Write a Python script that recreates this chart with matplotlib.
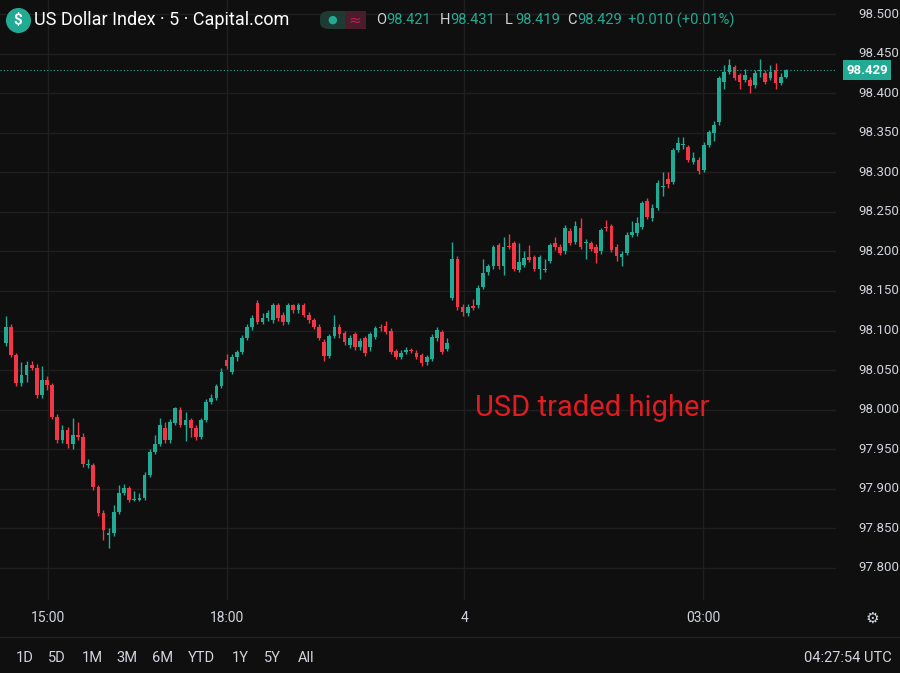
import matplotlib
matplotlib.use('Agg')
import matplotlib.pyplot as plt
from matplotlib.patches import Rectangle, FancyBboxPatch

plt.rcParams['font.family'] = ['Roboto', 'DejaVu Sans']

# 5-minute candles
opens = [98.084, 98.105, 98.069, 98.034, 98.044, 98.057, 98.053, 98.019, 98.038, 98.031,
         97.991, 97.962, 97.974, 97.956, 97.968, 97.966, 97.930, 97.930, 97.902, 97.870,
         97.842, 97.844, 97.871, 97.895, 97.901, 97.886, 97.886, 97.889, 97.918, 97.947,
         97.957, 97.977, 97.962, 97.983, 98.000, 97.981, 97.987, 97.977, 97.966, 97.987,
         98.010, 98.015, 98.030, 98.063, 98.048, 98.066, 98.073, 98.091, 98.105, 98.135,
         98.111, 98.116, 98.113, 98.132, 98.120, 98.111, 98.132, 98.126, 98.132, 98.120,
         98.113, 98.105, 98.086, 98.068, 98.093, 98.105, 98.097, 98.082, 98.095, 98.079,
         98.090, 98.079, 98.092, 98.105, 98.106, 98.100, 98.074, 98.067, 98.073, 98.076,
         98.072, 98.069, 98.060, 98.064, 98.090, 98.098, 98.077, 98.141, 98.191, 98.130,
         98.122, 98.131, 98.132, 98.155, 98.174, 98.181, 98.208, 98.181, 98.207, 98.210,
         98.177, 98.183, 98.193, 98.193, 98.178, 98.177, 98.188, 98.211, 98.206, 98.200,
         98.226, 98.212, 98.230, 98.211, 98.210, 98.206, 98.200, 98.231, 98.232, 98.206,
         98.193, 98.198, 98.221, 98.223, 98.231, 98.264, 98.242, 98.255, 98.282, 98.292,
         98.288, 98.328, 98.335, 98.332, 98.313, 98.316, 98.303, 98.335, 98.350, 98.363,
         98.414, 98.427, 98.433, 98.423, 98.417, 98.417, 98.410, 98.428, 98.426, 98.419,
         98.429, 98.413, 98.421]
closes = [98.105, 98.069, 98.034, 98.044, 98.057, 98.053, 98.019, 98.038, 98.031, 97.991,
          97.962, 97.974, 97.956, 97.968, 97.966, 97.931, 97.931, 97.902, 97.870, 97.848,
          97.844, 97.871, 97.895, 97.901, 97.886, 97.887, 97.889, 97.918, 97.947, 97.957,
          97.981, 97.962, 97.985, 98.002, 97.981, 97.987, 97.977, 97.966, 97.987, 98.010,
          98.015, 98.030, 98.048, 98.055, 98.066, 98.073, 98.091, 98.105, 98.116, 98.111,
          98.116, 98.122, 98.132, 98.116, 98.111, 98.132, 98.126, 98.132, 98.120, 98.113,
          98.105, 98.091, 98.068, 98.093, 98.105, 98.095, 98.086, 98.091, 98.079, 98.087,
          98.072, 98.095, 98.103, 98.103, 98.098, 98.073, 98.067, 98.072, 98.076, 98.074,
          98.067, 98.059, 98.066, 98.092, 98.101, 98.073, 98.084, 98.191, 98.130, 98.124,
          98.130, 98.129, 98.154, 98.173, 98.181, 98.205, 98.181, 98.205, 98.206, 98.178,
          98.186, 98.192, 98.189, 98.178, 98.193, 98.178, 98.208, 98.205, 98.198, 98.230,
          98.211, 98.232, 98.206, 98.211, 98.203, 98.198, 98.227, 98.230, 98.202, 98.194,
          98.197, 98.221, 98.225, 98.236, 98.261, 98.244, 98.255, 98.287, 98.283, 98.285,
          98.328, 98.337, 98.335, 98.316, 98.318, 98.301, 98.335, 98.351, 98.360, 98.419,
          98.427, 98.436, 98.419, 98.414, 98.423, 98.409, 98.426, 98.428, 98.414, 98.427,
          98.413, 98.421, 98.429]
highs = [98.118, 98.108, 98.072, 98.060, 98.062, 98.062, 98.058, 98.055, 98.042, 98.034,
         97.994, 97.980, 97.978, 97.990, 97.985, 97.970, 97.938, 97.933, 97.905, 97.873,
         97.850, 97.880, 97.905, 97.906, 97.904, 97.897, 97.895, 97.921, 97.950, 97.968,
         97.990, 97.985, 97.988, 98.004, 98.003, 97.997, 97.990, 97.980, 97.990, 98.013,
         98.020, 98.033, 98.053, 98.070, 98.070, 98.076, 98.094, 98.108, 98.119, 98.138,
         98.122, 98.126, 98.135, 98.135, 98.124, 98.135, 98.134, 98.135, 98.135, 98.123,
         98.116, 98.108, 98.089, 98.096, 98.120, 98.108, 98.100, 98.094, 98.098, 98.090,
         98.093, 98.098, 98.106, 98.108, 98.112, 98.103, 98.077, 98.075, 98.079, 98.078,
         98.075, 98.072, 98.069, 98.095, 98.104, 98.101, 98.090, 98.212, 98.194, 98.133,
         98.134, 98.140, 98.157, 98.190, 98.184, 98.208, 98.211, 98.218, 98.222, 98.213,
         98.210, 98.200, 98.208, 98.196, 98.196, 98.190, 98.211, 98.218, 98.209, 98.233,
         98.229, 98.238, 98.242, 98.216, 98.213, 98.209, 98.230, 98.240, 98.235, 98.209,
         98.200, 98.224, 98.238, 98.244, 98.264, 98.267, 98.260, 98.290, 98.300, 98.300,
         98.331, 98.345, 98.345, 98.335, 98.325, 98.319, 98.338, 98.354, 98.365, 98.422,
         98.436, 98.443, 98.436, 98.426, 98.430, 98.420, 98.429, 98.443, 98.429, 98.436,
         98.438, 98.426, 98.431]
lows = [98.080, 98.066, 98.030, 98.030, 98.035, 98.050, 98.015, 98.015, 98.025, 97.988,
        97.958, 97.958, 97.952, 97.950, 97.962, 97.928, 97.926, 97.898, 97.866, 97.835,
        97.825, 97.840, 97.868, 97.892, 97.883, 97.884, 97.884, 97.886, 97.915, 97.944,
        97.954, 97.958, 97.958, 97.980, 97.978, 97.960, 97.965, 97.962, 97.963, 97.984,
        98.007, 98.012, 98.027, 98.051, 98.045, 98.062, 98.070, 98.088, 98.101, 98.108,
        98.108, 98.112, 98.110, 98.112, 98.107, 98.108, 98.122, 98.122, 98.117, 98.110,
        98.102, 98.088, 98.062, 98.065, 98.090, 98.090, 98.082, 98.078, 98.075, 98.076,
        98.068, 98.074, 98.089, 98.100, 98.095, 98.070, 98.064, 98.064, 98.070, 98.071,
        98.064, 98.055, 98.057, 98.061, 98.087, 98.070, 98.074, 98.138, 98.126, 98.118,
        98.118, 98.126, 98.129, 98.152, 98.170, 98.178, 98.178, 98.170, 98.203, 98.175,
        98.174, 98.180, 98.186, 98.175, 98.165, 98.174, 98.185, 98.202, 98.195, 98.197,
        98.208, 98.209, 98.203, 98.190, 98.200, 98.185, 98.197, 98.226, 98.199, 98.188,
        98.182, 98.195, 98.218, 98.220, 98.228, 98.241, 98.239, 98.252, 98.270, 98.280,
        98.285, 98.325, 98.330, 98.313, 98.310, 98.298, 98.300, 98.332, 98.340, 98.360,
        98.405, 98.424, 98.416, 98.405, 98.414, 98.400, 98.407, 98.420, 98.411, 98.416,
        98.405, 98.410, 98.419]

time_labels = ['15:00', '18:00', '4', '03:00']
time_idx = [8.2, 43.1, 89.3, 135.9]
price_ticks = [97.80, 97.85, 97.90, 97.95, 98.00, 98.05, 98.10, 98.15,
               98.20, 98.25, 98.30, 98.35, 98.40, 98.45, 98.50]
last_price = 98.429
ranges = ['1D', '5D', '1M', '3M', '6M', 'YTD', '1Y', '5Y', 'All']
range_px = [16, 48, 82, 116, 152, 188, 232, 264, 298]

BG = '#0f0f0f'
GRID = '#1f1f1f'
UP = '#22ab94'
DOWN = '#f23645'
TXT = '#d1d4dc'

fig = plt.figure(figsize=(9, 6.73), dpi=100, facecolor=BG)
ax = fig.add_axes([0, 0.1085, 0.929, 0.8915], facecolor=BG)

# candles
for i in range(len(opens)):
    o, c, h, l = opens[i], closes[i], highs[i], lows[i]
    col = UP if c >= o else DOWN
    ax.vlines(i, l, h, color=col, lw=1)
    lo = min(o, c)
    ht = max(abs(c - o), 0.0008)
    ax.add_patch(Rectangle((i - 0.36, lo), 0.72, ht, color=col, lw=0))

ax.set_xlim(-1.17, 161.8)
ax.set_ylim(97.7595, 98.5177)
ax.set_yticks(price_ticks)
ax.set_xticks(time_idx)
ax.grid(True, color=GRID, lw=1)
ax.tick_params(length=0, labelleft=False, labelbottom=False)
for s in ax.spines.values():
    s.set_visible(False)
ax.set_axisbelow(True)

# price scale labels
for p in price_ticks:
    ax.text(1.0 + 0.0757, p, '%.3f' % p, transform=ax.get_yaxis_transform(),
            color=TXT, fontsize=9.5, ha='right', va='center', clip_on=False)

# last price line and tag
ax.axhline(last_price, color=UP, lw=0.8, ls=(0, (1, 2)))
ax.text(1.0125, last_price, '%.3f' % last_price, transform=ax.get_yaxis_transform(),
        color='white', fontsize=9.5, fontweight='bold', ha='left', va='center', clip_on=False,
        bbox=dict(boxstyle='square,pad=0.25', fc=UP, ec='none'))

# time labels
for lab, xi in zip(time_labels, time_idx):
    ax.text(xi, -0.03, lab, transform=ax.get_xaxis_transform(), color=TXT,
            fontsize=10, ha='center', va='center', clip_on=False)
fig.text(872 / 900, 1 - 618 / 673, '⚙', color=TXT, fontsize=11, ha='center', va='center',
         family='DejaVu Sans')

# annotation
ax.text(475 / 836, 1 - 408 / 600, 'USD traded higher', transform=ax.transAxes,
        color='#e01b22', fontsize=21, ha='left', va='center')

# header
fig.add_artist(plt.Line2D([18 / 900], [1 - 20 / 673], marker='o', ms=17, color=UP,
                          transform=fig.transFigure))
fig.text(18 / 900, 1 - 20 / 673, '$', color='white', fontsize=11, fontweight='bold',
         ha='center', va='center')
fig.text(34 / 900, 1 - 20 / 673, 'US Dollar Index · 5 · Capital.com', color='white',
         fontsize=13, ha='left', va='center')
fig.patches.append(FancyBboxPatch((320 / 900, 1 - 29 / 673), 46 / 900, 18 / 673,
                                  boxstyle='round,pad=0,rounding_size=0.01',
                                  transform=fig.transFigure, fc='#1e3a33', ec='none', figure=fig))
fig.patches.append(Rectangle((345 / 900, 1 - 29 / 673), 21 / 900, 18 / 673,
                             transform=fig.transFigure, fc='#4a1d2b', ec='none', figure=fig))
fig.text(332 / 900, 1 - 20 / 673, '●', color=UP, fontsize=8, ha='center', va='center',
         family='DejaVu Sans')
fig.text(355 / 900, 1 - 20 / 673, '≈', color='#c2185b', fontsize=11, ha='center', va='center',
         family='DejaVu Sans')
ohlc = [('O', '98.421', 376), ('H', '98.431', 440), ('L', '98.419', 505), ('C', '98.429', 567)]
for k, v, px in ohlc:
    fig.text(px / 900, 1 - 20 / 673, k, color=TXT, fontsize=10.5, ha='left', va='center')
    fig.text((px + 10) / 900, 1 - 20 / 673, v, color=UP, fontsize=10.5, ha='left', va='center')
fig.text(628 / 900, 1 - 20 / 673, '+0.010 (+0.01%)', color=UP, fontsize=10.5,
         ha='left', va='center')

# bottom toolbar
fig.add_artist(plt.Line2D([0, 1], [1 - 637 / 673] * 2, color='#232323', lw=1))
for r, px in zip(ranges, range_px):
    fig.text(px / 900, 1 - 658 / 673, r, color=TXT, fontsize=10.5, ha='left', va='center')
fig.text(892 / 900, 1 - 658 / 673, '04:27:54 UTC', color=TXT, fontsize=10.5,
         ha='right', va='center')

fig.savefig('out.png', dpi=100, facecolor=BG)
